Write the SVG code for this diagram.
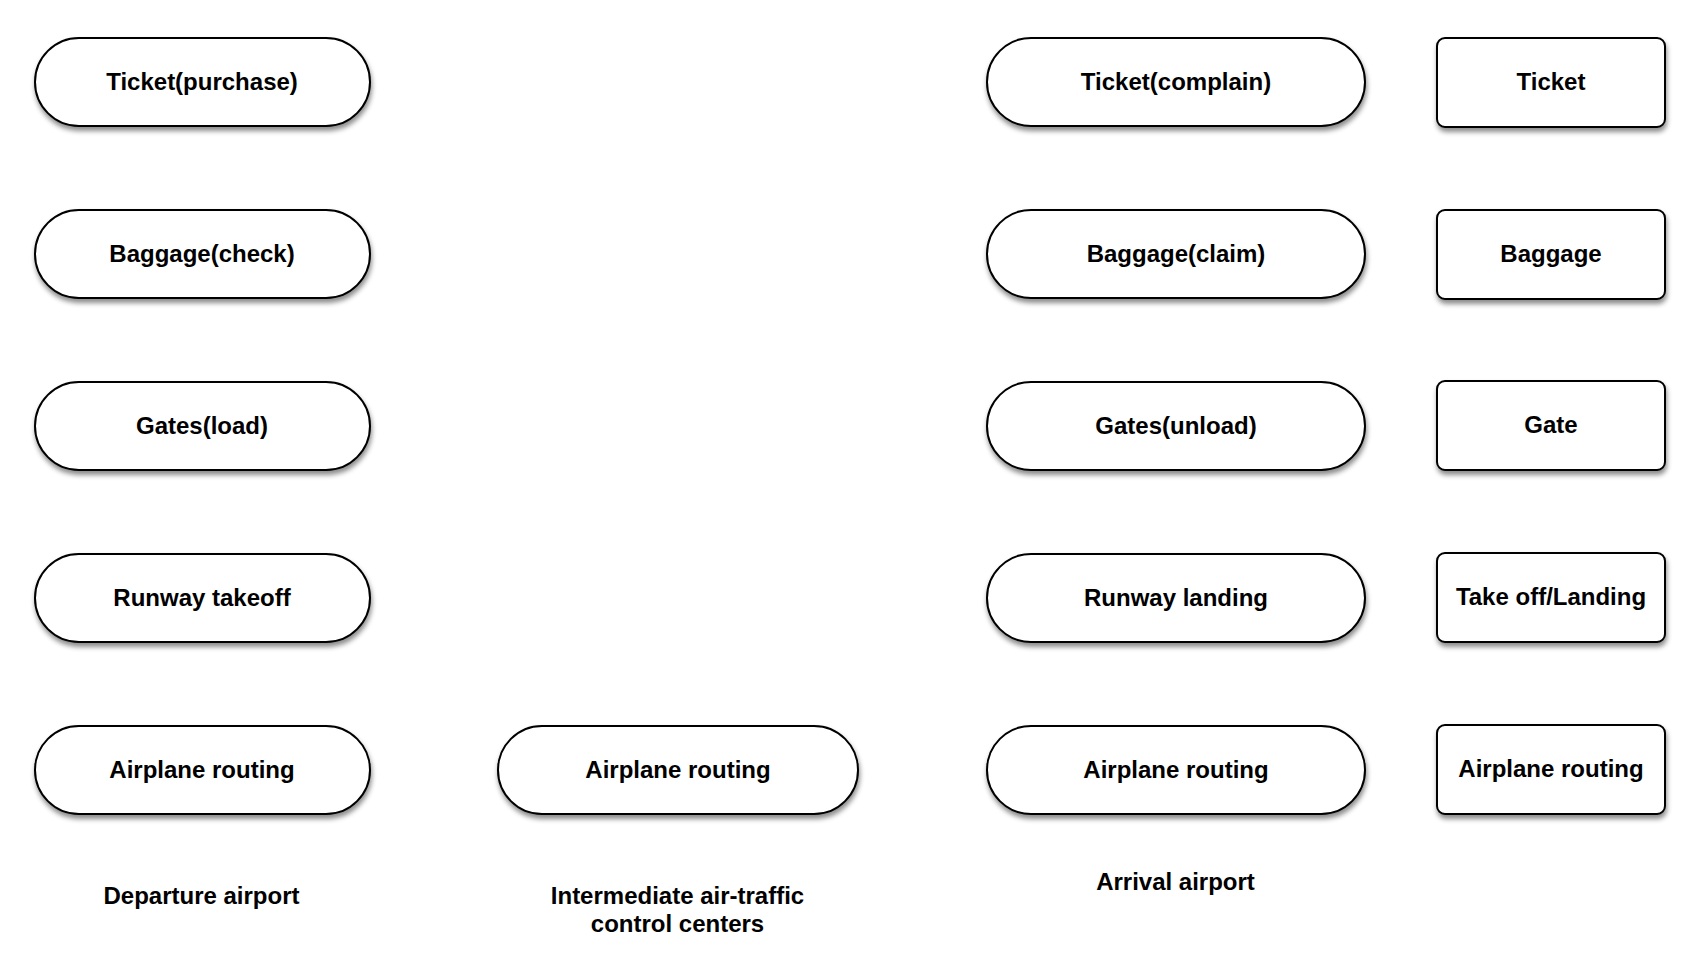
<svg xmlns="http://www.w3.org/2000/svg" width="1694" height="972" viewBox="0 0 1694 972">
<defs>
<filter id="sh" x="-10%" y="-20%" width="120%" height="150%">
<feDropShadow dx="1" dy="4" stdDeviation="2.5" flood-color="#000" flood-opacity="0.45"/>
</filter>
</defs>
<style>
.n{fill:#fff;stroke:#000;stroke-width:2;filter:url(#sh)}
.t{font-family:"Liberation Sans",Arial,sans-serif;font-weight:bold;font-size:24px;fill:#000;text-anchor:middle}
</style>
<rect width="1694" height="972" fill="#fff"/>
<g id="connectors"></g>
<g id="dep-ticket"><rect class="n" x="35" y="38" width="335" height="88" rx="44"/><text class="t" x="202" y="89.5">Ticket(purchase)</text></g>
<g id="dep-baggage"><rect class="n" x="35" y="210" width="335" height="88" rx="44"/><text class="t" x="202" y="261.5">Baggage(check)</text></g>
<g id="dep-gates"><rect class="n" x="35" y="382" width="335" height="88" rx="44"/><text class="t" x="202" y="433.5">Gates(load)</text></g>
<g id="dep-runway"><rect class="n" x="35" y="554" width="335" height="88" rx="44"/><text class="t" x="202" y="605.5">Runway takeoff</text></g>
<g id="dep-routing"><rect class="n" x="35" y="726" width="335" height="88" rx="44"/><text class="t" x="202" y="777.5">Airplane routing</text></g>
<g id="mid-routing"><rect class="n" x="498" y="726" width="360" height="88" rx="44"/><text class="t" x="678" y="777.5">Airplane routing</text></g>
<g id="arr-ticket"><rect class="n" x="987" y="38" width="378" height="88" rx="44"/><text class="t" x="1176" y="89.5">Ticket(complain)</text></g>
<g id="arr-baggage"><rect class="n" x="987" y="210" width="378" height="88" rx="44"/><text class="t" x="1176" y="261.5">Baggage(claim)</text></g>
<g id="arr-gates"><rect class="n" x="987" y="382" width="378" height="88" rx="44"/><text class="t" x="1176" y="433.5">Gates(unload)</text></g>
<g id="arr-runway"><rect class="n" x="987" y="554" width="378" height="88" rx="44"/><text class="t" x="1176" y="605.5">Runway landing</text></g>
<g id="arr-routing"><rect class="n" x="987" y="726" width="378" height="88" rx="44"/><text class="t" x="1176" y="777.5">Airplane routing</text></g>
<g id="layer-ticket"><rect class="n" x="1437" y="38" width="228" height="89" rx="8"/><text class="t" x="1551" y="90">Ticket</text></g>
<g id="layer-baggage"><rect class="n" x="1437" y="210" width="228" height="89" rx="8"/><text class="t" x="1551" y="262">Baggage</text></g>
<g id="layer-gate"><rect class="n" x="1437" y="381" width="228" height="89" rx="8"/><text class="t" x="1551" y="433">Gate</text></g>
<g id="layer-takeoff"><rect class="n" x="1437" y="553" width="228" height="89" rx="8"/><text class="t" x="1551" y="605">Take off/Landing</text></g>
<g id="layer-routing"><rect class="n" x="1437" y="725" width="228" height="89" rx="8"/><text class="t" x="1551" y="777">Airplane routing</text></g>
<g id="label-departure"><text class="t" x="201.5" y="903.5">Departure airport</text></g>
<g id="label-intermediate"><text class="t" x="677.5" y="903.5">Intermediate air-traffic</text><text class="t" x="677.5" y="931.5">control centers</text></g>
<g id="label-arrival"><text class="t" x="1175.5" y="889.5">Arrival airport</text></g>
</svg>
